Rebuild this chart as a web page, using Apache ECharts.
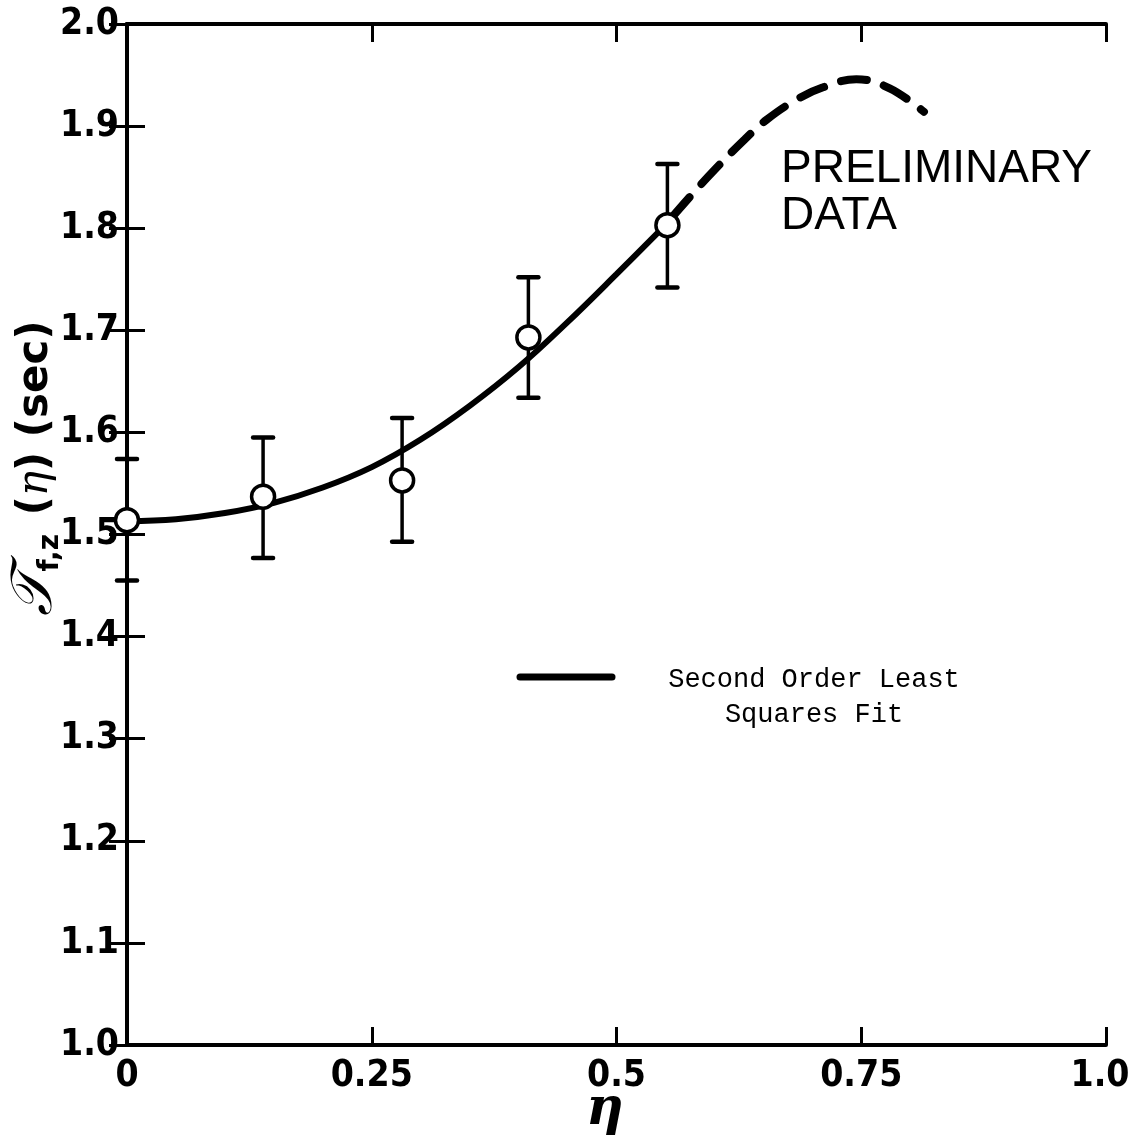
<!DOCTYPE html>
<html>
<head>
<meta charset="utf-8">
<script src="https://cdn.jsdelivr.net/npm/echarts@6/dist/echarts.min.js"></script>
<style>
  html, body { margin: 0; padding: 0; background: #fff; }
  #chart { width: 1131px; height: 1141px; }
</style>
</head>
<body>
<div id="chart"></div>
<script>
// Measured points: eta, time constant and the ends of each error bar
const etaPts = [0, 0.139, 0.281, 0.41, 0.552];
const tauPts = [1.514, 1.537, 1.553, 1.693, 1.803];
const tauHi  = [1.574, 1.595, 1.614, 1.752, 1.863];
const tauLo  = [1.455, 1.477, 1.493, 1.634, 1.742];

// Least squares fit, solid over the measured range
const fitEta = [0, 0.05, 0.10, 0.15, 0.20, 0.25, 0.30, 0.35, 0.40, 0.45, 0.50, 0.552];
const fitTau = [1.513, 1.515, 1.521, 1.531, 1.546, 1.566, 1.593, 1.626, 1.664, 1.708, 1.755, 1.805];

// Preliminary extension of the fit, dashed
const prelimEta = [0.557, 0.578, 0.600, 0.631, 0.653, 0.684, 0.711, 0.745, 0.779, 0.814];
const prelimTau = [1.811, 1.834, 1.857, 1.887, 1.906, 1.926, 1.938, 1.946, 1.937, 1.914];

// Axis ticks
const xTicks = [0, 0.25, 0.5, 0.75, 1.0];
const xTickLabels = ['0', '0.25', '0.5', '0.75', '1.0'];
const yTickLabels = ['1.0', '1.1', '1.2', '1.3', '1.4', '1.5', '1.6', '1.7', '1.8', '1.9', '2.0'];

const pairs = (a, b) => a.map((v, i) => [v, b[i]]);

const labelFont = 'DejaVu Sans Condensed, DejaVu Sans, sans-serif';
const axisCommon = {
  type: 'value',
  axisLine: { show: true, lineStyle: { color: '#000', width: 4 } },
  axisTick: { show: true, inside: true, length: 18, lineStyle: { color: '#000', width: 3 } },
  splitLine: { show: false }
};

const chart = echarts.init(document.getElementById('chart'), null, { renderer: 'canvas' });

chart.setOption({
  backgroundColor: '#fff',
  animation: false,
  grid: { left: 127, right: 25, top: 24, bottom: 96, containLabel: false, outerBoundsMode: 'none' },
  xAxis: [
    Object.assign({}, axisCommon, {
      min: 0, max: 1, interval: 0.25, position: 'bottom',
      axisLabel: {
        color: '#000', fontSize: 37, fontFamily: labelFont, fontWeight: 'bold', margin: 13,
        formatter: v => {
          const i = xTicks.indexOf(Math.round(v * 100) / 100);
          // last label sits against the page edge, nudge it inward
          return i === xTicks.length - 1 ? '{edge|' + xTickLabels[i] + '}' : xTickLabels[i];
        },
        rich: {
          edge: { fontSize: 37, fontFamily: labelFont, fontWeight: 'bold', color: '#000', padding: [0, 12, 0, 0] }
        }
      }
    }),
    Object.assign({}, axisCommon, {
      min: 0, max: 1, interval: 0.25, position: 'top',
      axisLabel: { show: false }
    })
  ],
  yAxis: [
    Object.assign({}, axisCommon, {
      min: 1, max: 2, interval: 0.1, position: 'left',
      axisLabel: {
        color: '#000', fontSize: 37, fontFamily: labelFont, fontWeight: 'bold', margin: 8,
        formatter: v => yTickLabels[Math.round((v - 1) * 10)]
      }
    }),
    Object.assign({}, axisCommon, {
      min: 1, max: 2, interval: 0.1, position: 'right',
      axisLabel: { show: false }
    })
  ],
  series: [
    {
      name: 'Second Order Least Squares Fit',
      type: 'line',
      data: pairs(fitEta, fitTau),
      smooth: 0.4,
      symbol: 'none',
      z: 2,
      lineStyle: { color: '#000', width: 6, cap: 'round' }
    },
    {
      name: 'Preliminary',
      type: 'line',
      data: pairs(prelimEta, prelimTau),
      smooth: 0.4,
      symbol: 'none',
      z: 2,
      lineStyle: { color: '#000', width: 8, type: [26, 18], cap: 'round' }
    },
    {
      name: 'Error bars',
      type: 'custom',
      z: 3,
      data: etaPts.map((e, i) => [e, tauLo[i], tauHi[i]]),
      renderItem: (params, api) => {
        const lo = api.coord([api.value(0), api.value(1)]);
        const hi = api.coord([api.value(0), api.value(2)]);
        const half = 10;
        const st = { stroke: '#000', lineWidth: 3.5 };
        const capSt = { stroke: '#000', lineWidth: 4.5, lineCap: 'round' };
        return {
          type: 'group',
          children: [
            { type: 'line', shape: { x1: lo[0], y1: lo[1], x2: hi[0], y2: hi[1] }, style: st },
            { type: 'line', shape: { x1: hi[0] - half, y1: hi[1], x2: hi[0] + half, y2: hi[1] }, style: capSt },
            { type: 'line', shape: { x1: lo[0] - half, y1: lo[1], x2: lo[0] + half, y2: lo[1] }, style: capSt }
          ]
        };
      }
    },
    {
      name: 'Measured',
      type: 'scatter',
      z: 4,
      data: pairs(etaPts, tauPts),
      symbol: 'circle',
      symbolSize: 23,
      itemStyle: { color: '#fff', borderColor: '#000', borderWidth: 3.5, opacity: 1 }
    }
  ],
  graphic: [
    {
      // vertical axis title
      type: 'text',
      x: 36, y: 468,
      rotation: Math.PI / 2,
      style: {
        text: '{a|𝒯}{b|f,z}{c| (}{d|η}{c|) (sec)}',
        textAlign: 'center',
        textVerticalAlign: 'middle',
        fill: '#000',
        rich: {
          a: { fontSize: 58, fontFamily: 'DejaVu Serif, serif', fontStyle: 'italic', fill: '#000' },
          b: { fontSize: 28, fontFamily: 'DejaVu Sans, sans-serif', fontWeight: 'bold', fill: '#000', verticalAlign: 'bottom', padding: [18, 4, 0, 0] },
          c: { fontSize: 42, fontFamily: 'DejaVu Sans, sans-serif', fontWeight: 'bold', fill: '#000' },
          d: { fontSize: 42, fontFamily: 'DejaVu Serif, serif', fontStyle: 'italic', fill: '#000' }
        }
      }
    },
    {
      // horizontal axis title
      type: 'text',
      x: 605, y: 1110,
      style: {
        text: 'η',
        textAlign: 'center',
        textVerticalAlign: 'middle',
        fill: '#000',
        fontSize: 52,
        fontFamily: 'DejaVu Serif, serif',
        fontStyle: 'italic',
        fontWeight: 'bold'
      }
    },
    {
      type: 'text',
      x: 781, y: 146,
      style: {
        text: 'PRELIMINARY\nDATA',
        fill: '#000',
        fontSize: 46,
        lineHeight: 47,
        fontFamily: 'Liberation Sans, Arial, sans-serif'
      }
    },
    {
      // legend key for the fitted curve
      type: 'line',
      shape: { x1: 520, y1: 677, x2: 612, y2: 677 },
      style: { stroke: '#000', lineWidth: 7, lineCap: 'round' }
    },
    {
      type: 'text',
      x: 814, y: 697,
      style: {
        text: 'Second Order Least\nSquares Fit',
        textAlign: 'center',
        textVerticalAlign: 'middle',
        fill: '#000',
        fontSize: 27,
        lineHeight: 35,
        fontFamily: 'Liberation Mono, DejaVu Sans Mono, monospace'
      }
    }
  ]
});
</script>
</body>
</html>
